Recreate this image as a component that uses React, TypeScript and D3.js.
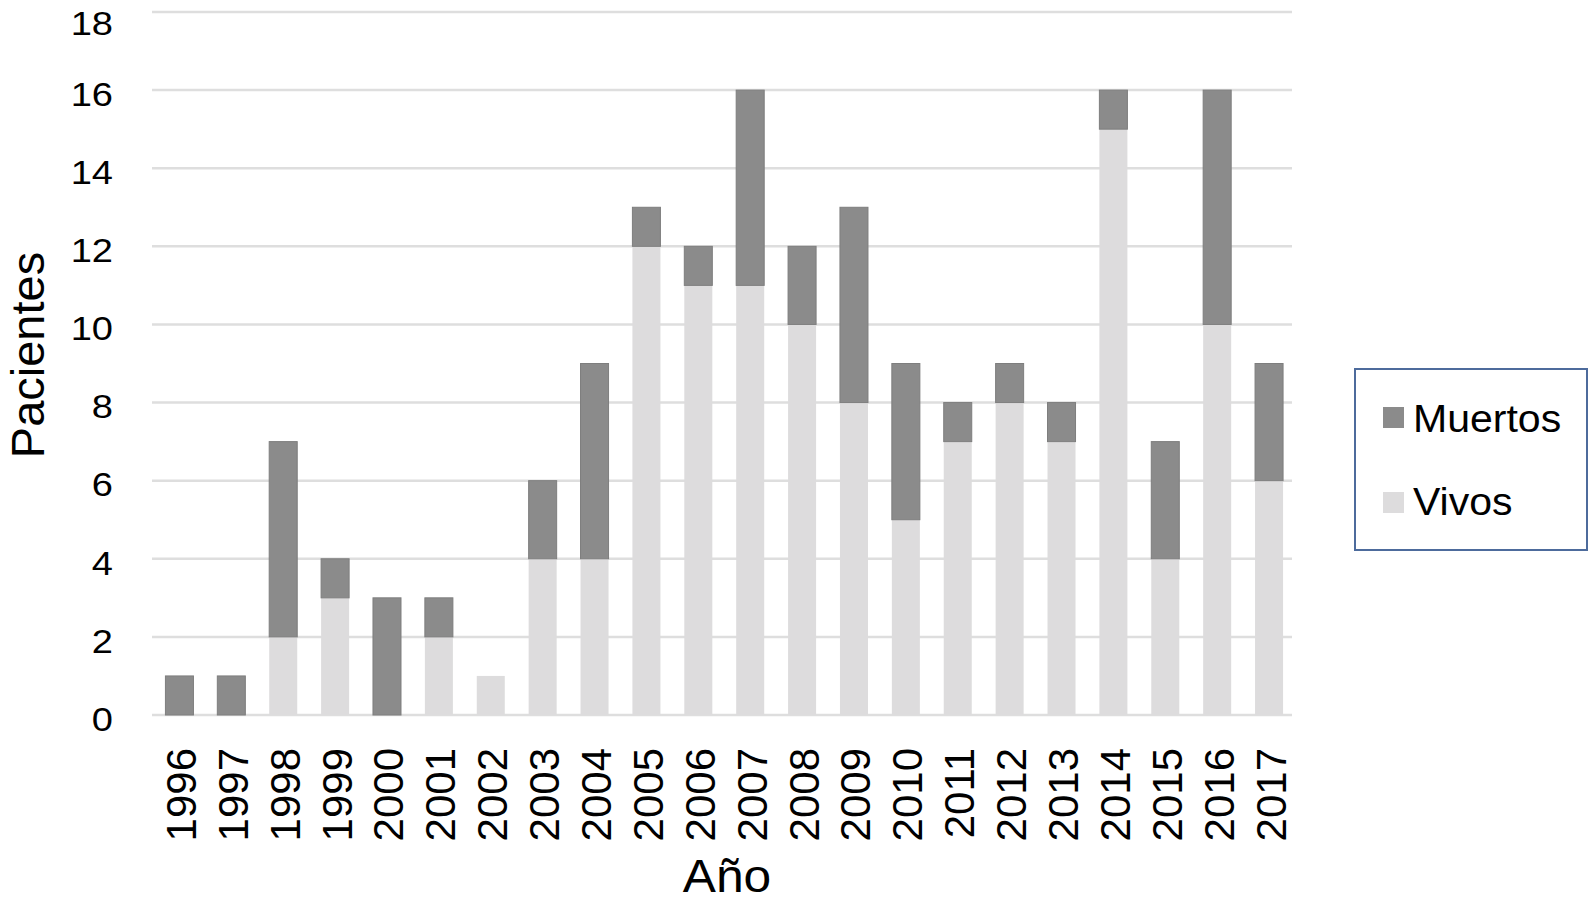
import React from "react";
import * as d3 from "d3";

const years = ["1996","1997","1998","1999","2000","2001","2002","2003","2004","2005","2006","2007","2008","2009","2010","2011","2012","2013","2014","2015","2016","2017"];
const vivos =   [0,0,2,3,0,2,1,4,4,12,11,11,10,8,5,7,8,7,15,4,10,6];
const muertos = [1,1,5,1,3,1,0,2,5,1,1,5,2,5,4,1,1,1,1,3,6,3];
const yTicks = [0,2,4,6,8,10,12,14,16,18];
const seriesNames = ["Muertos","Vivos"];

const W = 1594, H = 904;
const DARK = "#8b8b8b", LIGHT = "#dddcdd";
const FONT = "'Liberation Sans', Arial, sans-serif";

export default function App() {
  const x = d3.scaleBand<string>().domain(years).range([153.5, 1295]).paddingInner(0.46).paddingOuter(0.23);
  const y = d3.scaleLinear().domain([0, 18]).range([715, 12]);
  const bw = x.bandwidth();
  return (
    <svg width={W} height={H} style={{ position: "absolute", left: 0, top: 0 }} fontFamily={FONT}>
      <rect width={W} height={H} fill="#fff" />
      {yTicks.map(t => (
        <g key={t}>
          <line x1={152} x2={1292} y1={y(t)} y2={y(t)} stroke="#dedede" strokeWidth={2.5} />
          <text transform={`translate(113,${Math.max(y(t) + 4, 23)}) scale(1.12,1)`} textAnchor="end" dominantBaseline="central" fontSize={34} fill="#000">{t}</text>
        </g>
      ))}
      {years.map((yr, i) => (
        <g key={yr}>
          {vivos[i] > 0 && (
            <rect x={x(yr)} y={y(vivos[i])} width={bw} height={y(0) - y(vivos[i])} fill={LIGHT} />
          )}
          {muertos[i] > 0 && (
            <rect x={x(yr)} y={y(vivos[i] + muertos[i])} width={bw} height={y(vivos[i]) - y(vivos[i] + muertos[i])} fill={DARK} stroke="#7e7e7e" strokeWidth={1} />
          )}
          <text transform={`translate(${(x(yr) as number) + bw / 2 + 2},748) rotate(-90)`} textAnchor="end" dominantBaseline="central" fontSize={42} fill="#000">{yr}</text>
        </g>
      ))}
      <text transform="translate(727,892) scale(1.08,1)" textAnchor="middle" fontSize={46} fill="#000">Año</text>
      <text transform="translate(44,355) rotate(-90)" textAnchor="middle" fontSize={47} fill="#000">Pacientes</text>
      <rect x={1355} y={369} width={232} height={181} fill="#fff" stroke="#4d6b9c" strokeWidth={2} />
      {seriesNames.map((s, i) => (
        <g key={s}>
          <rect x={1383} y={407 + i * 85} width={21} height={21} fill={i === 0 ? DARK : LIGHT} />
          <text transform={`translate(1413,${432 + i * 83}) scale(1.08,1)`} fontSize={38} fill="#000">{s}</text>
        </g>
      ))}
    </svg>
  );
}
